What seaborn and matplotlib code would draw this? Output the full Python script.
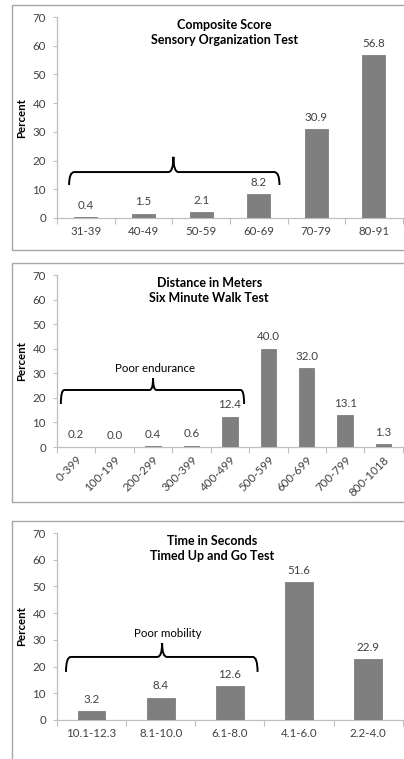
import matplotlib
matplotlib.use("Agg")
import matplotlib.pyplot as plt
from matplotlib.path import Path
from matplotlib.patches import PathPatch, Rectangle
import seaborn as sns
import pandas as pd

# ---- data ----
sot_cats = ["31-39", "40-49", "50-59", "60-69", "70-79", "80-91"]
sot_vals = [0.4, 1.5, 2.1, 8.2, 30.9, 56.8]
sot_title = "Composite Score\nSensory Organization Test"

smwt_cats = ["0-399", "100-199", "200-299", "300-399", "400-499", "500-599",
             "600-699", "700-799", "800-1018"]
smwt_vals = [0.2, 0.0, 0.4, 0.6, 12.4, 40.0, 32.0, 13.1, 1.3]
smwt_title = "Distance in Meters\nSix Minute Walk Test"
smwt_note = "Poor endurance"

tug_cats = ["10.1-12.3", "8.1-10.0", "6.1-8.0", "4.1-6.0", "2.2-4.0"]
tug_vals = [3.2, 8.4, 12.6, 51.6, 22.9]
tug_title = "Time in Seconds\nTimed Up and Go Test"
tug_note = "Poor mobility"

y_ticks = [0, 10, 20, 30, 40, 50, 60, 70]

sns.set_style("white")
plt.rcParams["font.family"] = ["Lato", "DejaVu Sans"]

W, H = 404, 759
fig = plt.figure(figsize=(W / 100, H / 100), dpi=100)

TXT = "#404040"
BAR = "#7f7f7f"
AXC = "#bfbfbf"
FS = 8.3


def fx(px):
    return px / W


def fy(py):
    return 1 - py / H


# panel frames
for top, bot in [(5, 250), (263, 502), (521, 770)]:
    fig.patches.append(Rectangle((fx(12), fy(bot)), 1.1, fy(top) - fy(bot),
                                 transform=fig.transFigure, fill=False,
                                 edgecolor="#a6a6a6", linewidth=1.0, zorder=0))


def brace(ax, x0, x1, xm, y_end, y_h, y_peak, r):
    verts = [(x0, y_end), (x0, y_h), (x0 + r, y_h),
             (xm - r, y_h), (xm, y_h), (xm, y_peak),
             (xm, y_h), (xm + r, y_h),
             (x1 - r, y_h), (x1, y_h), (x1, y_end)]
    codes = [Path.MOVETO, Path.CURVE3, Path.CURVE3,
             Path.LINETO, Path.CURVE3, Path.CURVE3,
             Path.CURVE3, Path.CURVE3,
             Path.LINETO, Path.CURVE3, Path.CURVE3]
    ax.add_patch(PathPatch(Path(verts, codes), fill=False, edgecolor="black",
                           linewidth=1.4, zorder=5, clip_on=False))


def panel(rect, cats, vals, title, title_x, title_y, rot=0):
    ax = fig.add_axes(rect)
    df = pd.DataFrame({"cat": cats, "val": vals})
    sns.barplot(data=df, x="cat", y="val", color=BAR, width=0.4,
                saturation=1, ax=ax, zorder=3, edgecolor=BAR, linewidth=0.6)
    n = len(cats)
    ax.set_xlim(-0.5, n - 0.5)
    ax.set_ylim(0, 70)
    ax.set_yticks(y_ticks)
    ax.set_xticks(range(n))
    if rot:
        ax.set_xticklabels(cats, rotation=rot, ha="right", rotation_mode="anchor")
    else:
        ax.set_xticklabels(cats)
    ax.set_xticks([i - 0.5 for i in range(n + 1)], minor=True)
    ax.tick_params(axis="x", which="major", length=0, pad=6 if not rot else 5,
                   labelsize=FS, labelcolor=TXT)
    ax.tick_params(axis="x", which="minor", length=4, width=0.8, color=AXC,
                   direction="out", bottom=True)
    ax.tick_params(axis="y", which="major", length=3, width=0.8, color=AXC,
                   direction="out", left=True, labelsize=FS, labelcolor=TXT, pad=5)
    for s in ["top", "right"]:
        ax.spines[s].set_visible(False)
    for s in ["left", "bottom"]:
        ax.spines[s].set_color(AXC)
        ax.spines[s].set_linewidth(0.9)
    ax.set_xlabel("")
    ax.set_ylabel("Percent", fontsize=8.3, fontweight="bold", color="black",
                  labelpad=4)
    ax.patch.set_alpha(0)
    for i, v in enumerate(vals):
        ax.annotate(f"{v:.1f}", (i, v), xytext=(0, 4.5), textcoords="offset points",
                    ha="center", va="bottom", fontsize=FS, color=TXT)
    ax.text(title_x, title_y, title, transform=ax.transAxes, ha="center",
            va="top", fontsize=9, fontweight="bold", color="black",
            linespacing=1.3)
    return ax


LEFT = fx(57)
WID = 1.0 - LEFT - 0.003

ax1 = panel([LEFT, fy(218), WID, fy(17) - fy(218)], sot_cats, sot_vals,
            sot_title, 0.484, 0.99)
brace(ax1, -0.29, 3.36, 1.52, 11.5, 16.0, 21.3, 0.09)

ax2 = panel([LEFT, fy(447), WID, fy(275) - fy(447)], smwt_cats, smwt_vals,
            smwt_title, 0.44, 0.99, rot=45)
brace(ax2, -0.4, 4.37, 2.0, 17.5, 23.2, 28.0, 0.09)
ax2.text(2.05, 32, smwt_note, ha="center", va="center", fontsize=FS, color="black")

ax3 = panel([LEFT, fy(720), WID, fy(533) - fy(720)], tug_cats, tug_vals,
            tug_title, 0.45, 0.99)
brace(ax3, -0.37, 2.4, 1.02, 18.0, 23.6, 28.8, 0.07)
ax3.text(1.1, 32.5, tug_note, ha="center", va="center", fontsize=FS, color="black")

fig.savefig("out.png", dpi=100)
